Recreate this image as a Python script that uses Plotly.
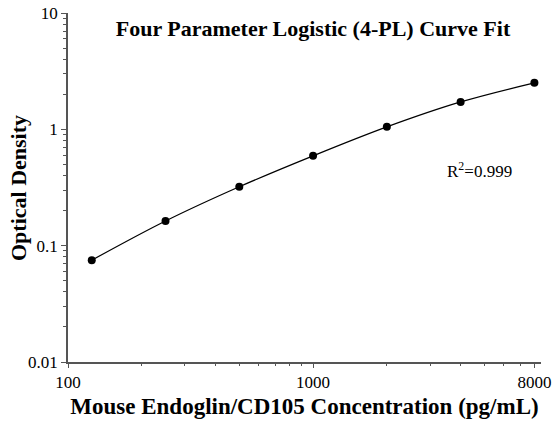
import plotly.graph_objects as go

conc = [125, 250, 500, 1000, 2000, 4000, 8000]
od = [0.075, 0.163, 0.321, 0.592, 1.05, 1.72, 2.51]

x_tickvals = [100, 1000, 8000]
x_ticktext = ["100", "1000", "8000"]
y_tickvals = [0.01, 0.1, 1, 10]
y_ticktext = ["0.01", "0.1", "1", "10"]

font_family = "Liberation Serif, Times New Roman, serif"
axis_color = "#555555"

W, H = 553, 425
pl, pr, pt, pb = 68, 541, 13, 362  # plot-area edges in pixels

fig = go.Figure()
fig.add_trace(go.Scatter(
    x=conc, y=od, mode="lines+markers",
    line=dict(color="black", width=1.2, shape="spline", smoothing=1.0),
    marker=dict(color="black", size=8),
    showlegend=False,
))

fig.update_layout(
    width=W, height=H,
    margin=dict(l=pl, r=W - pr, t=pt, b=H - pb, autoexpand=False),
    plot_bgcolor="white", paper_bgcolor="white",
    font=dict(family=font_family, color="black", size=16),
    title=dict(text="<b>Four Parameter Logistic (4-PL) Curve Fit</b>",
               x=313 / W, xanchor="center", xref="container",
               y=1 - 28 / H, yanchor="middle", yref="container",
               font=dict(size=22, family=font_family, color="black")),
    xaxis=dict(
        type="log", range=[2, 3.93], automargin=False,
        tickvals=x_tickvals, ticktext=x_ticktext,
        ticks="outside", ticklen=4, tickwidth=1.2, tickcolor=axis_color,
        minor=dict(ticks="outside", ticklen=2, tickcolor=axis_color,
                   tickvals=[200, 300, 400, 500, 600, 700, 800, 900,
                             2000, 3000, 4000, 5000, 6000, 7000]),
        showline=True, linecolor=axis_color, linewidth=1.5,
        showgrid=False, zeroline=False,
        tickfont=dict(size=17, family=font_family),
        title=dict(text="<b>Mouse Endoglin/CD105 Concentration (pg/mL)</b>",
                   font=dict(size=23, family=font_family), standoff=7),
    ),
    yaxis=dict(
        type="log", range=[-2, 1], automargin=False,
        tickvals=y_tickvals, ticktext=y_ticktext,
        ticks="outside", ticklen=5, tickwidth=1.2, tickcolor=axis_color,
        minor=dict(ticks="outside", ticklen=3, tickcolor=axis_color,
                   tickvals=[0.02, 0.03, 0.04, 0.05, 0.06, 0.07, 0.08, 0.09,
                             0.2, 0.3, 0.4, 0.5, 0.6, 0.7, 0.8, 0.9,
                             2, 3, 4, 5, 6, 7, 8, 9]),
        showline=True, linecolor=axis_color, linewidth=1.5,
        showgrid=False, zeroline=False,
        tickfont=dict(size=17, family=font_family),
    ),
    annotations=[
        dict(
            text="R<sup>2</sup>=0.999",
            x=(445 - pl) / (pr - pl), y=(pb - 170) / (pb - pt),
            xref="x domain", yref="y domain",
            showarrow=False, xanchor="left", yanchor="middle",
            font=dict(size=17, family=font_family, color="black"),
        ),
        dict(
            text="<b>Optical Density</b>", textangle=-90,
            x=(18 - pl) / (pr - pl), y=(pb - 188) / (pb - pt),
            xref="paper", yref="paper",
            showarrow=False, xanchor="center", yanchor="middle",
            font=dict(size=22, family=font_family, color="black"),
        ),
    ],
)

fig.write_html("out.html",
               config={"displayModeBar": False},
               post_script="document.body.style.margin='0';document.body.style.overflow='hidden';")
